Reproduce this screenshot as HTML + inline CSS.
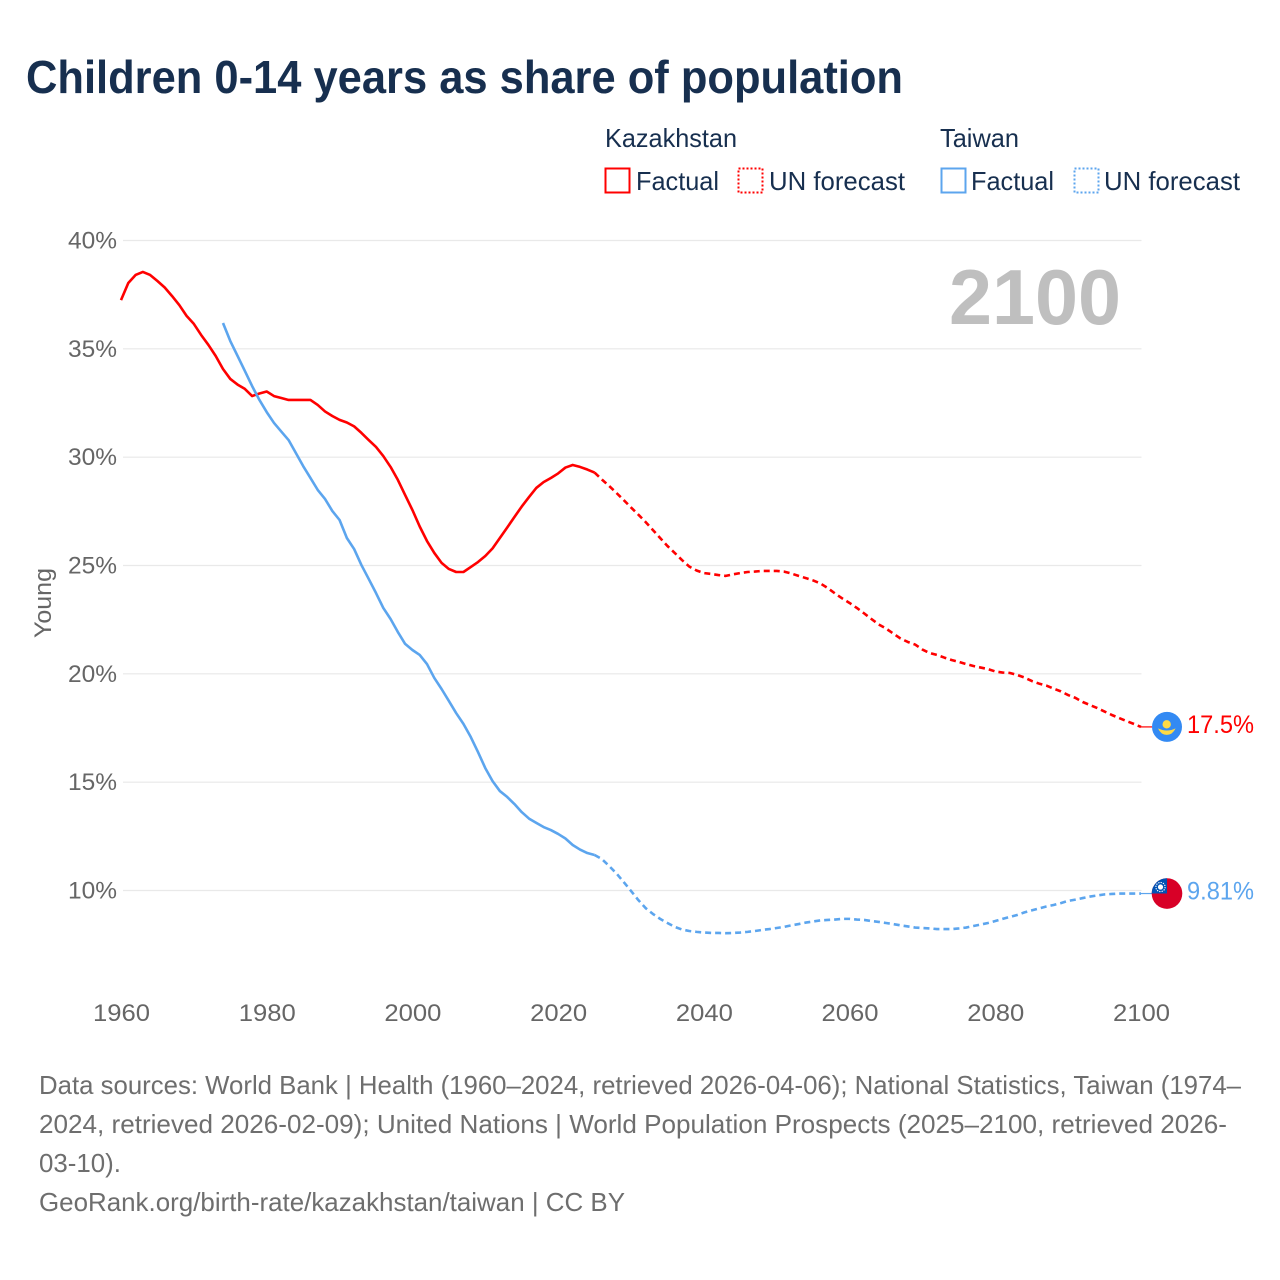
<!DOCTYPE html>
<html lang="en">
<head>
<meta charset="utf-8">
<title>Children 0-14 years as share of population</title>
<style>
html,body{margin:0;padding:0;background:#fff;width:1280px;height:1280px;overflow:hidden}
svg{display:block}
text{font-family:"Liberation Sans",sans-serif}
</style>
</head>
<body>
<svg id="chart" xmlns="http://www.w3.org/2000/svg" width="1280" height="1280" viewBox="0 0 1280 1280">
  <rect x="0" y="0" width="1280" height="1280" fill="#ffffff"/>
  <text x="26" y="93" font-size="46" font-weight="700" fill="#172f4f" textLength="877" lengthAdjust="spacingAndGlyphs">Children 0-14 years as share of population</text>

  <g font-size="26" fill="#172f4f">
    <text x="605" y="147" textLength="132" lengthAdjust="spacingAndGlyphs">Kazakhstan</text>
    <g>
      <rect x="605.5" y="168.5" width="24" height="24" fill="none" stroke="#ff0000" stroke-width="2"/>
      <text x="636" y="190" textLength="83" lengthAdjust="spacingAndGlyphs">Factual</text>
    </g>
    <g>
      <rect x="738.5" y="168.5" width="24" height="24" fill="none" stroke="#ff0000" stroke-width="2" stroke-dasharray="2 2"/>
      <text x="769" y="190" textLength="136" lengthAdjust="spacingAndGlyphs">UN forecast</text>
    </g>
    <text x="940" y="147" textLength="79" lengthAdjust="spacingAndGlyphs">Taiwan</text>
    <g>
      <rect x="941.5" y="168.5" width="24" height="24" fill="none" stroke="#5ca5ee" stroke-width="2"/>
      <text x="971" y="190" textLength="83" lengthAdjust="spacingAndGlyphs">Factual</text>
    </g>
    <g>
      <rect x="1074.5" y="168.5" width="24" height="24" fill="none" stroke="#5ca5ee" stroke-width="2" stroke-dasharray="2 2"/>
      <text x="1104" y="190" textLength="136" lengthAdjust="spacingAndGlyphs">UN forecast</text>
    </g>
  </g>

  <g id="grid"></g>
  <g id="yticks" font-size="24" fill="#666666"></g>
  <g id="xticks" font-size="24" fill="#666666"></g>
  <text transform="translate(51 638) rotate(-90)" font-size="24" fill="#666666" textLength="70" lengthAdjust="spacingAndGlyphs">Young</text>
  <text x="949" y="324" font-size="78" font-weight="700" fill="#bfbfbf" textLength="172" lengthAdjust="spacingAndGlyphs">2100</text>

  <g id="series"></g>

  <g id="flag-kz">
    <circle cx="0" cy="0" r="15" fill="#338af3"/>
    <circle cx="-0.3" cy="-2.6" r="4.2" fill="#ffda44"/>
    <path d="M-9 1.5 Q-4.5 3.6 -0.3 3.6 Q4.5 3.6 8.6 1.5 Q5.5 8 -0.3 8 Q-6 8 -9 1.5Z" fill="#ffda44"/>
  </g>
  <g id="flag-tw">
    <circle cx="0" cy="0" r="15.3" fill="#d80027"/>
    <path d="M-15.3 0 A15.3 15.3 0 0 1 0 -15.3 L0 0Z" fill="#0052b4"/>
    <circle cx="-6.5" cy="-6.5" r="2.6" fill="#ffffff"/>
    <circle cx="-6.5" cy="-6.5" r="4.6" fill="none" stroke="#ffffff" stroke-width="1.1" stroke-dasharray="1.3 1.1"/>
  </g>
  <text id="label-kz" x="1187" font-size="25" fill="#ff0000" textLength="67" lengthAdjust="spacingAndGlyphs"></text>
  <text id="label-tw" x="1187" font-size="25" fill="#5ca5ee" textLength="67" lengthAdjust="spacingAndGlyphs"></text>

  <g font-size="26" fill="#6e6e6e">
    <text x="39" y="1094" textLength="1202" lengthAdjust="spacingAndGlyphs">Data sources: World Bank | Health (1960–2024, retrieved 2026-04-06); National Statistics, Taiwan (1974–</text>
    <text x="39" y="1133" textLength="1188" lengthAdjust="spacingAndGlyphs">2024, retrieved 2026-02-09); United Nations | World Population Prospects (2025–2100, retrieved 2026-</text>
    <text x="39" y="1172" textLength="82" lengthAdjust="spacingAndGlyphs">03-10).</text>
    <text x="39" y="1211" textLength="586" lengthAdjust="spacingAndGlyphs">GeoRank.org/birth-rate/kazakhstan/taiwan | CC BY</text>
  </g>
</svg>
<script>
const yTickValues = [40, 35, 30, 25, 20, 15, 10];
const xTickValues = [1960, 1980, 2000, 2020, 2040, 2060, 2080, 2100];

const kazakhstanFactualStart = 1960;
const kazakhstanFactual = [
  37.25, 38.04, 38.41, 38.55, 38.41, 38.13, 37.83, 37.44, 37.02, 36.52,
  36.15, 35.64, 35.18, 34.67, 34.07, 33.61, 33.35, 33.15, 32.82, 32.94,
  33.03, 32.82, 32.73, 32.64, 32.64, 32.64, 32.64, 32.41, 32.11, 31.90,
  31.72, 31.60, 31.42, 31.12, 30.79, 30.47, 30.05, 29.55, 28.95, 28.25,
  27.56, 26.80, 26.13, 25.58, 25.12, 24.84, 24.70, 24.70, 24.93, 25.16,
  25.44, 25.79, 26.27, 26.75, 27.24, 27.72, 28.16, 28.58, 28.85, 29.04,
  29.25, 29.52, 29.64, 29.55, 29.43, 29.29
];
const kazakhstanForecastStart = 2025;
const kazakhstanForecast = [
  29.29, 28.97, 28.67, 28.35, 28.02,
  27.68, 27.35, 27.01, 26.64, 26.27, 25.90, 25.58, 25.25, 24.95, 24.77,
  24.65, 24.61, 24.56, 24.52, 24.59, 24.65, 24.70, 24.72, 24.75, 24.75,
  24.75, 24.72, 24.63, 24.52, 24.42, 24.31, 24.17, 23.96, 23.71, 23.48,
  23.27, 23.04, 22.79, 22.53, 22.28, 22.09, 21.86, 21.63, 21.47, 21.35,
  21.12, 20.96, 20.87, 20.75, 20.64, 20.55, 20.45, 20.36, 20.29, 20.22,
  20.11, 20.06, 20.04, 19.95, 19.83, 19.67, 19.55, 19.46, 19.32, 19.19,
  19.02, 18.89, 18.70, 18.56, 18.42, 18.26, 18.10, 17.96, 17.82, 17.69,
  17.55
];
const taiwanFactualStart = 1974;
const taiwanFactual = [
  36.19, 35.36, 34.67, 33.98, 33.28, 32.64,
  32.08, 31.58, 31.18, 30.79, 30.19, 29.59, 29.04, 28.49, 28.07, 27.52,
  27.10, 26.27, 25.76, 25.02, 24.38, 23.73, 23.04, 22.53, 21.93, 21.38,
  21.10, 20.87, 20.45, 19.81, 19.30, 18.75, 18.19, 17.69, 17.09, 16.39,
  15.65, 15.05, 14.59, 14.32, 13.99, 13.62, 13.32, 13.12, 12.93, 12.79,
  12.61, 12.40, 12.10, 11.89, 11.73, 11.64
];
const taiwanForecastStart = 2025;
const taiwanForecast = [
  11.64, 11.45, 11.13, 10.79, 10.39,
  9.98, 9.56, 9.19, 8.92, 8.69, 8.50, 8.32, 8.20, 8.13, 8.09,
  8.06, 8.04, 8.04, 8.03, 8.04, 8.06, 8.09, 8.13, 8.18, 8.22,
  8.27, 8.32, 8.39, 8.45, 8.52, 8.57, 8.62, 8.64, 8.66, 8.69,
  8.69, 8.66, 8.64, 8.59, 8.55, 8.50, 8.45, 8.39, 8.34, 8.29,
  8.27, 8.25, 8.22, 8.22, 8.22, 8.25, 8.29, 8.36, 8.43, 8.50,
  8.59, 8.69, 8.78, 8.87, 8.99, 9.08, 9.17, 9.26, 9.33, 9.42,
  9.52, 9.58, 9.65, 9.72, 9.77, 9.82, 9.84, 9.86, 9.86, 9.86,
  9.86
];
const endLabelKazakhstan = "17.5%";
const endLabelTaiwan = "9.81%";

const NS = "http://www.w3.org/2000/svg";
const RED = "#ff0000";
const BLUE = "#5ca5ee";
const FLAG_X = 1167;

function xScale(year) {
  return 121 + (year - 1960) * (1020 / 140);
}
function yScale(value) {
  return 240.5 + (40 - value) * (650 / 30);
}
function make(tag, attrs) {
  const el = document.createElementNS(NS, tag);
  Object.keys(attrs).forEach(function (k) { el.setAttribute(k, attrs[k]); });
  return el;
}
function pointsFor(start, values) {
  return values.map(function (v, i) {
    return xScale(start + i).toFixed(2) + "," + yScale(v).toFixed(2);
  }).join(" ");
}

const gridGroup = document.getElementById("grid");
const yGroup = document.getElementById("yticks");
yTickValues.forEach(function (v) {
  const line = make("line", {
    x1: 123, x2: 1141.5, y1: yScale(v), y2: yScale(v),
    stroke: "#e9e9e9", "stroke-width": 1.2
  });
  
  
  gridGroup.appendChild(line);

  const label = make("text", {
    x: 68, y: yScale(v) + 8,
    textLength: 49, lengthAdjust: "spacingAndGlyphs"
  });
  
  
  label.textContent = v + "%";
  yGroup.appendChild(label);
});

const xGroup = document.getElementById("xticks");
xTickValues.forEach(function (year) {
  const label = make("text", {
    x: xScale(year) - 28, y: 1021,
    textLength: 57, lengthAdjust: "spacingAndGlyphs"
  });
  
  
  label.textContent = year;
  xGroup.appendChild(label);
});

const seriesGroup = document.getElementById("series");
function drawSeries(start, values, color, dashed, name) {
  const line = make("polyline", {
    points: pointsFor(start, values),
    fill: "none", stroke: color, "stroke-width": 2.6,
    "stroke-linejoin": "round", "stroke-linecap": "butt"
  });
  if (dashed) line.setAttribute("stroke-dasharray", "6 4");
  
  
  seriesGroup.appendChild(line);
}
drawSeries(kazakhstanFactualStart, kazakhstanFactual, RED, false, "kazakhstan-factual-line");
drawSeries(kazakhstanForecastStart, kazakhstanForecast, RED, true, "kazakhstan-forecast-line");
drawSeries(taiwanFactualStart, taiwanFactual, BLUE, false, "taiwan-factual-line");
drawSeries(taiwanForecastStart, taiwanForecast, BLUE, true, "taiwan-forecast-line");

function placeEnd(values, start, color, flagId, labelId, text, flagOffset, connectorName) {
  const lastValue = values[values.length - 1];
  const lastYear = start + values.length - 1;
  const py = yScale(lastValue);
  const connector = make("line", {
    x1: xScale(lastYear), y1: py, x2: FLAG_X - 15, y2: py,
    stroke: color, "stroke-width": 1.2
  });
  
  
  seriesGroup.appendChild(connector);
  document.getElementById(flagId).setAttribute("transform", "translate(" + FLAG_X + " " + (py + flagOffset) + ")");
  const lab = document.getElementById(labelId);
  lab.setAttribute("y", py + 6);
  lab.textContent = text;
}
placeEnd(kazakhstanForecast, kazakhstanForecastStart, RED, "flag-kz", "label-kz", endLabelKazakhstan, 0, "kazakhstan-end-connector");
placeEnd(taiwanForecast, taiwanForecastStart, BLUE, "flag-tw", "label-tw", endLabelTaiwan, 0, "taiwan-end-connector");
</script>
</body>
</html>
